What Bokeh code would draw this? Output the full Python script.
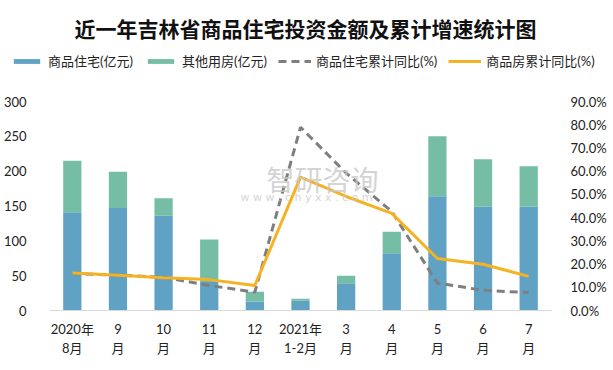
from bokeh.plotting import figure
from bokeh.layouts import column
from bokeh.models import (ColumnDataSource, FactorRange, Range1d, LinearAxis, FixedTicker,
                          NumeralTickFormatter, Legend, LegendItem, Label)
from bokeh.embed import file_html
from bokeh.resources import INLINE

months = ["2020年\n8月", "9\n月", "10\n月", "11\n月", "12\n月", "2021年\n1-2月",
          "3\n月", "4\n月", "5\n月", "6\n月", "7\n月"]
residential = [141, 147, 136, 41, 13, 14, 39, 82, 164, 149, 149]
other = [74, 52, 25, 61, 14, 3, 11, 31, 86, 68, 58]
res_yoy = [0.159, 0.152, 0.143, 0.108, 0.079, 0.789, 0.592, 0.426, 0.118, 0.087, 0.077]
all_yoy = [0.161, 0.152, 0.141, 0.133, 0.108, 0.574, 0.491, 0.418, 0.224, 0.199, 0.147]
left_ticks = [0, 50, 100, 150, 200, 250, 300]
right_ticks = [0.0, 0.1, 0.2, 0.3, 0.4, 0.5, 0.6, 0.7, 0.8, 0.9]

title = "近一年吉林省商品住宅投资金额及累计增速统计图"
names = ["商品住宅(亿元)", "其他用房(亿元)", "商品住宅累计同比(%)", "商品房累计同比(%)"]

BLUE = "#60a2c3"
GREEN = "#75bea5"
GREY = "#7f7f7f"
ORANGE = "#f5b222"
FONT = "Lato, Noto Sans CJK SC"
W = 613
HEAD_H = 80
MAIN_H = 290

# ---------------- header: title + legend ----------------
h = figure(width=W, height=HEAD_H, x_range=Range1d(0, 1), y_range=Range1d(0, 1),
           output_backend="svg", toolbar_location=None, x_axis_type=None, y_axis_type=None,
           min_border_left=0, min_border_right=0, min_border_top=0, min_border_bottom=0)
h.frame_align = False
h.xgrid.grid_line_color = None
h.ygrid.grid_line_color = None
h.outline_line_color = None
h.background_fill_color = "white"
h.border_fill_color = "white"

# legend keys (placed outside the visible header range; only their legend glyphs show)
k1 = h.rect(x=[-5], y=[-5], width=1, height=1, color=BLUE, line_color=None)
k2 = h.rect(x=[-5], y=[-5], width=1, height=1, color=GREEN, line_color=None)
k3 = h.line(x=[-6, -5], y=[-5, -5], color=GREY, line_width=3, line_dash="8 5")
k4 = h.line(x=[-6, -5], y=[-5, -5], color=ORANGE, line_width=3)

legend = Legend(items=[LegendItem(label=names[0], renderers=[k1]),
                       LegendItem(label=names[1], renderers=[k2]),
                       LegendItem(label=names[2], renderers=[k3]),
                       LegendItem(label=names[3], renderers=[k4])],
                orientation="horizontal", location=(10, 10),
                label_text_font=FONT, label_text_font_size="13px",
                label_text_color="#222222",
                glyph_width=33, glyph_height=6, label_standoff=5, spacing=11,
                padding=0, margin=0, border_line_color=None, background_fill_alpha=0)
h.add_layout(legend, "center")

h.add_layout(Label(x=305, y=53, x_units="screen", y_units="screen", text=title,
                   text_font="Noto Sans CJK SC", text_font_style="bold",
                   text_font_size="21px", text_align="center", text_baseline="middle",
                   text_color="#111111"))

# ---------------- main chart ----------------
src = ColumnDataSource(dict(m=months, res=residential, oth=other, ry=res_yoy, ay=all_yoy))

p = figure(width=W, height=MAIN_H, x_range=FactorRange(*months, range_padding=0),
           y_range=Range1d(0, 300), output_backend="svg", toolbar_location=None,
           min_border_left=49, min_border_right=62, min_border_top=21, min_border_bottom=60)
p.frame_align = False
p.extra_y_ranges = {"pct": Range1d(0, 0.9)}

bars = p.vbar_stack(["res", "oth"], x="m", width=0.4, source=src, color=[BLUE, GREEN],
                    line_color=None)
l1 = p.line("m", "ry", source=src, y_range_name="pct", color=GREY, line_width=3,
            line_dash="8 5")
l2 = p.line("m", "ay", source=src, y_range_name="pct", color=ORANGE, line_width=3)

p.xgrid.grid_line_color = None
p.ygrid.grid_line_color = None
p.outline_line_color = None
p.background_fill_color = "white"
p.border_fill_color = "white"

p.yaxis.ticker = FixedTicker(ticks=left_ticks)
p.yaxis.axis_line_color = None
p.yaxis.major_tick_line_color = None
p.yaxis.minor_tick_line_color = None
p.yaxis.major_label_text_font = FONT
p.yaxis.major_label_text_font_size = "13px"
p.yaxis.major_label_text_color = "#222222"
p.yaxis.major_label_standoff = 17

p.xaxis.axis_line_color = "#d9d9d9"
p.xaxis.major_tick_line_color = None
p.xaxis.minor_tick_line_color = None
p.xaxis.major_label_text_font = FONT
p.xaxis.major_label_text_font_size = "13px"
p.xaxis.major_label_text_color = "#222222"
p.xaxis.major_label_standoff = 4

ry = LinearAxis(y_range_name="pct", ticker=FixedTicker(ticks=right_ticks),
                formatter=NumeralTickFormatter(format="0.0%"))
ry.axis_line_color = None
ry.major_tick_line_color = None
ry.minor_tick_line_color = None
ry.major_label_text_font = FONT
ry.major_label_text_font_size = "13px"
ry.major_label_text_color = "#222222"
ry.major_label_standoff = 13
p.add_layout(ry, "right")

p.add_layout(Label(x=273, y=132, x_units="screen", y_units="screen", text="智研咨询",
                   text_font="Noto Sans CJK SC", text_font_size="28px",
                   text_align="center", text_baseline="middle", text_color="#c8c8c8",
                   text_alpha=0.8))
p.add_layout(Label(x=257, y=113, x_units="screen", y_units="screen",
                   text="w w w . c h y x x . c o m",
                   text_font="DejaVu Sans", text_font_size="11px",
                   text_align="center", text_baseline="middle", text_color="#c8c8c8",
                   text_alpha=0.8))

layout = column(h, p, spacing=0)
open("out.html", "w").write(file_html(layout, INLINE))
